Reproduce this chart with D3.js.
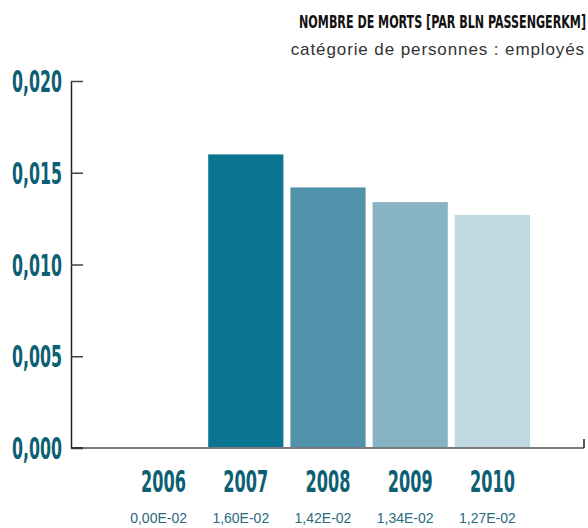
<!DOCTYPE html>
<html>
<head>
<meta charset="utf-8">
<script src="https://cdn.jsdelivr.net/npm/d3@7"></script>
<style>
  html, body { margin: 0; padding: 0; background: #fff; }
  svg { display: block; }
</style>
</head>
<body>
<svg id="chart" width="588" height="528"></svg>
<script>
// Fatalities per billion passenger-km, employees
const years = ["2006", "2007", "2008", "2009", "2010"];
const values = [0.0000, 0.0160, 0.0142, 0.0134, 0.0127];
const valueLabels = ["0,00E-02", "1,60E-02", "1,42E-02", "1,34E-02", "1,27E-02"];
const barColors = ["#0a7590", "#0a7590", "#5193aa", "#87b3c4", "#c0d8e2"];
const yTicks = [0, 0.005, 0.010, 0.015, 0.020];
const title = "NOMBRE DE MORTS [PAR BLN PASSENGERKM]";
const subtitle = "catégorie de personnes : employés";

(function draw() {
  const svg = d3.select("#chart");
  const plotLeft = 71, plotRight = 584, plotTop = 81, plotBottom = 448;

  const x = d3.scaleBand().domain(years).range([126, 530]).paddingInner(0.085).paddingOuter(0);
  const y = d3.scaleLinear().domain([0, 0.020]).range([plotBottom, plotTop]);

  const condensed = "'DejaVu Sans Condensed', 'DejaVu Sans', sans-serif";
  const teal = "#0d5f74";

  // squeeze a condensed label horizontally to a given width, keeping its anchor
  function squeeze(sel, width, ax, ay, anchor) {
    sel.each(function (d, i) {
      const node = this;
      const w = node.getComputedTextLength();
      const sx = Math.min(1, width / w);
      const px = typeof ax === "function" ? ax(d, i) : ax;
      const py = typeof ay === "function" ? ay(d, i) : ay;
      d3.select(node)
        .attr("text-anchor", anchor)
        .attr("transform", `translate(${px},${py}) scale(${sx},1)`);
    });
  }

  // bars
  svg.append("g").selectAll("rect").data(values).join("rect")
    .attr("x", (d, i) => x(years[i]))
    .attr("y", d => y(d))
    .attr("width", x.bandwidth())
    .attr("height", d => plotBottom - y(d))
    .attr("fill", (d, i) => barColors[i]);

  // y axis
  const yAxis = d3.axisRight(y).tickValues(yTicks).tickSize(12).tickSizeOuter(0).tickFormat("");
  const gy = svg.append("g").attr("transform", `translate(${plotLeft},0)`).call(yAxis);
  gy.select(".domain").attr("stroke", "#222").attr("stroke-width", 1.5);
  gy.selectAll(".tick line").attr("stroke", "#444").attr("stroke-width", 1.5);

  // y tick labels
  const yl = svg.append("g").selectAll("text").data(yTicks).join("text")
    .attr("font-family", condensed)
    .attr("font-weight", "bold")
    .attr("font-size", 30)
    .attr("fill", teal)
    .text(d => d3.format(".3f")(d).replace(".", ","));
  squeeze(yl, 50, 62, d => y(d) + 11, "end");

  // baseline
  svg.append("line").attr("x1", plotLeft).attr("x2", plotRight).attr("y1", plotBottom).attr("y2", plotBottom)
    .attr("stroke", "#7a7a7a").attr("stroke-width", 2);
  svg.append("line").attr("x1", plotLeft).attr("x2", plotLeft + 12).attr("y1", plotBottom).attr("y2", plotBottom)
    .attr("stroke", "#333").attr("stroke-width", 2);
  svg.append("line").attr("x1", plotRight).attr("x2", plotRight).attr("y1", plotBottom).attr("y2", plotBottom - 9)
    .attr("stroke", "#222").attr("stroke-width", 1.5);

  // category labels
  const xl = svg.append("g").selectAll("text").data(years).join("text")
    .attr("font-family", condensed)
    .attr("font-weight", "bold")
    .attr("font-size", 30)
    .attr("fill", teal)
    .text(d => d);
  squeeze(xl, 45, d => x(d) + x.bandwidth() / 2, 492, "middle");

  // value labels, set slightly left of the band centre
  svg.append("g").selectAll("text").data(valueLabels).join("text")
    .attr("x", (d, i) => x(years[i]) + x.bandwidth() / 2 - 5)
    .attr("y", 523)
    .attr("text-anchor", "middle")
    .attr("font-family", "'Liberation Sans', Arial, sans-serif")
    .attr("font-size", 14)
    .attr("fill", "#2a6a80")
    .text(d => d);

  // title and subtitle
  const tt = svg.append("text")
    .attr("font-family", condensed)
    .attr("font-weight", "bold")
    .attr("font-size", 18)
    .attr("fill", "#111")
    .text(title);
  squeeze(tt, 287, 586, 28, "end");

  svg.append("text")
    .attr("x", 585).attr("y", 55)
    .attr("text-anchor", "end")
    .attr("font-family", "'Liberation Sans', Arial, sans-serif")
    .attr("font-size", 17)
    .attr("letter-spacing", 0.9)
    .attr("fill", "#333")
    .text(subtitle);
})();
</script>
</body>
</html>
